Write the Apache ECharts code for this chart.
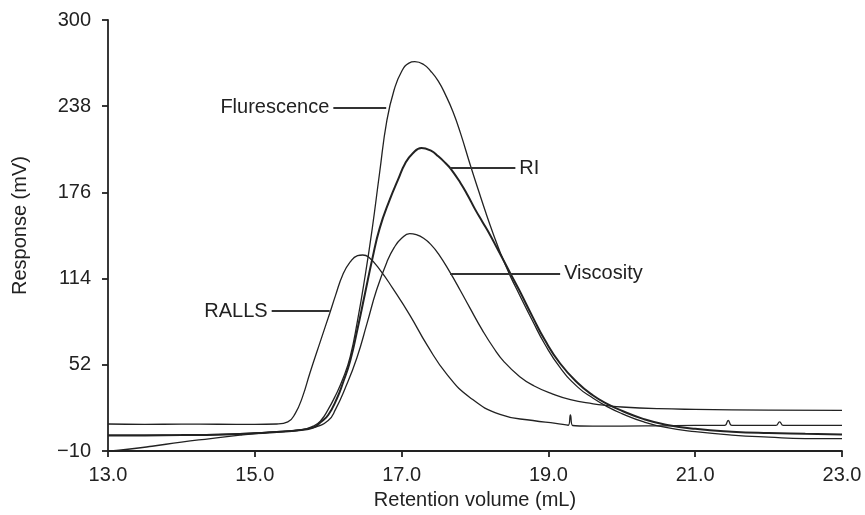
<!DOCTYPE html>
<html>
<head>
<meta charset="utf-8">
<script src="https://cdn.jsdelivr.net/npm/echarts@6/dist/echarts.min.js"></script>
<style>
html,body{margin:0;padding:0;background:#ffffff;}
#c{width:865px;height:515px;}
</style>
</head>
<body>
<div id="c"></div>
<script>
// ---- tick labels ----
const xTicks = [13, 15, 17, 19, 21, 23];
const yTicks = [-10, 52, 114, 176, 238, 300];

// ---- Fluorescence ----
const fluorX = [13.0,13.5,14.0,14.5,15.0,15.3,15.6,15.8,15.9,16.0,16.1,16.2,16.3,16.4,16.5,16.6,16.7,16.8,16.9,17.0,17.1,17.18,17.3,17.4,17.5,17.6,17.7,17.8,17.94,18.05,18.15,18.25,18.35,18.48,18.6,18.79,18.95,19.16,19.4,19.61,19.8,20.0,20.3,20.6,21.0,21.5,22.0,22.5,23.0];
const fluorY = [1.5,1.4,1.6,2.0,3.0,4.0,5.0,8,12,20,30,42,58,84,115,150,190,228,250,263,269,270,268,263,256,246,234,219,195,177,161,146,132,116,103,83,67,50,36,28,22,17,11,7,4,1.5,0,-1,-1];

// ---- RI ----
const riX = [13.0,13.5,14.0,14.5,15.0,15.3,15.6,15.8,15.9,16.0,16.12,16.2,16.3,16.4,16.5,16.6,16.7,16.84,16.95,17.05,17.15,17.27,17.4,17.5,17.6,17.67,17.8,17.9,18.0,18.1,18.2,18.3,18.48,18.6,18.79,18.95,19.16,19.4,19.61,19.8,20.0,20.3,20.6,21.0,21.5,22.0,22.5,23.0];
const riY = [1.2,1.3,1.5,1.8,2.8,3.8,5,7,11,16,28,39,55,78,103,128,150,171,185,197,204,208,206,202,197,193,183,174,164,155,146,136,118,106,86,70,53,39,30,24,19,13,9,6,4,3,2.5,2];

// ---- Viscosity ----
const viscX = [13.0,13.3,13.6,14.0,14.4,14.8,15.2,15.5,15.8,16.0,16.1,16.23,16.39,16.53,16.66,16.8,16.9,17.0,17.11,17.2,17.3,17.4,17.5,17.66,17.8,17.93,18.1,18.25,18.4,18.61,18.8,19.06,19.3,19.61,19.8,20.0,20.5,21.0,22.0,23.0];
const viscY = [-10,-8.5,-6.5,-3.5,-1,1.5,3.5,4.5,7,12,20,35,57,82,106,126,136.5,143,146.4,145.6,143,138.5,132,118.5,105.5,93,77,64.5,54,43.5,37,31,27,24,22.7,21.7,20.5,20,19.5,19.3];

// ---- RALLS ----
const rallsX = [13.0,13.5,14.0,14.5,15.0,15.3,15.45,15.55,15.65,15.75,15.9,16.02,16.1,16.2,16.3,16.4,16.47,16.55,16.71,16.88,17.11,17.35,17.62,17.93,18.34,18.79,19.1,19.27,19.3,19.33,19.6,20.0,20.5,21.0,21.4,21.45,21.5,21.9,22.1,22.15,22.2,22.6,23.0];
const rallsY = [9.5,9.2,9.4,9.3,9.2,9.5,11,17,29,46,70,89,102,117,126,130.5,131,129.5,120,107,88,66,45,28.6,16.4,12,10,8.6,16,8.4,8,8,8.2,8.5,8.5,12,8.5,8.5,8.5,11,8.5,8.5,8.5];

// ---- annotation labels (data coordinates) ----
const labelNames = ['Flurescence', 'RI', 'Viscosity', 'RALLS'];
const labelY     = [237, 193.4, 117.5, 90.7];
const lineX1     = [16.07, 17.66, 17.66, 15.23];
const lineX2     = [16.79, 18.55, 19.16, 16.02];
const labelSide  = ['start', 'end', 'end', 'start'];

const FONT = '"Liberation Sans", Arial, Helvetica, sans-serif';
const TXT = '#222';
const LINE = '#222';

function pairs(xs, ys) { return xs.map((x, i) => [x, ys[i]]); }

const seriesData = [
  { x: fluorX, y: fluorY, w: 1.3 },
  { x: riX,    y: riY,    w: 2.0 },
  { x: viscX,  y: viscY,  w: 1.3 },
  { x: rallsX, y: rallsY, w: 1.3 }
];

const series = seriesData.map((s, i) => ({
  type: 'line',
  name: labelNames[i],
  data: pairs(s.x, s.y),
  showSymbol: false,
  symbol: 'none',
  smooth: 0.5,
  lineStyle: { color: LINE, width: s.w },
  emphasis: { disabled: true },
  silent: true,
  z: 2,
  markLine: {
    silent: true,
    animation: false,
    symbol: ['none', 'none'],
    lineStyle: { color: '#333', width: 1.8, type: 'solid' },
    emphasis: { disabled: true },
    label: {
      show: true,
      position: labelSide[i],
      formatter: labelNames[i],
      color: TXT,
      fontSize: 20,
      fontFamily: FONT,
      distance: 4
    },
    data: [[{ coord: [lineX1[i], labelY[i]] }, { coord: [lineX2[i], labelY[i]] }]]
  }
}));

const chart = echarts.init(document.getElementById('c'), null, { renderer: 'canvas' });
chart.setOption({
  animation: false,
  backgroundColor: '#ffffff',
  grid: { left: 108, right: 23, top: 20, bottom: 61, containLabel: false },
  xAxis: {
    type: 'value',
    min: 13, max: 23,
    name: 'Retention volume (mL)',
    nameLocation: 'middle',
    nameGap: 37,
    nameTextStyle: { color: TXT, fontSize: 20, fontFamily: FONT },
    axisLine: { show: true, onZero: false, lineStyle: { color: '#222', width: 1.8 } },
    axisTick: { show: true, customValues: xTicks, length: 6, lineStyle: { color: '#222', width: 1.8 } },
    axisLabel: { customValues: xTicks, formatter: v => v.toFixed(1), color: TXT, fontSize: 20, fontFamily: FONT, margin: 14 },
    splitLine: { show: false }
  },
  yAxis: {
    type: 'value',
    min: -10, max: 300,
    name: 'Response (mV)',
    nameLocation: 'middle',
    nameGap: 78,
    nameTextStyle: { color: TXT, fontSize: 20, fontFamily: FONT, padding: [0, 0, 0, 20] },
    axisLine: { show: true, onZero: false, lineStyle: { color: '#222', width: 1.8 } },
    axisTick: { show: true, customValues: yTicks, length: 6, lineStyle: { color: '#222', width: 1.8 } },
    axisLabel: { customValues: yTicks, formatter: v => (v < 0 ? '\u2212' + Math.abs(v) : String(v)), color: TXT, fontSize: 20, fontFamily: FONT, margin: 17 },
    splitLine: { show: false }
  },
  series: series
});
</script>
</body>
</html>
